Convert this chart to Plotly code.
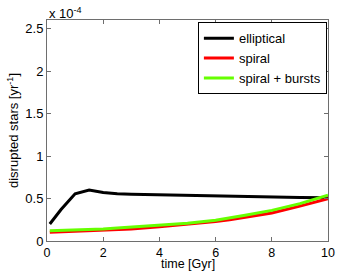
import plotly.graph_objects as go

time_gyr = [0.1, 0.5, 1.0, 1.5, 2.0, 2.5, 3.0, 4.0, 5.0, 6.0, 6.5, 7.0, 8.0, 9.0, 10.0]
elliptical = [0.20, 0.37, 0.555, 0.60, 0.57, 0.555, 0.55, 0.543, 0.535, 0.527, 0.532, 0.525, 0.518, 0.512, 0.51]
spiral = [0.103, 0.108, 0.113, 0.118, 0.125, 0.132, 0.142, 0.168, 0.197, 0.229, 0.25, 0.277, 0.33, 0.41, 0.497]
spiral_bursts = [0.122, 0.125, 0.13, 0.135, 0.142, 0.152, 0.163, 0.187, 0.209, 0.245, 0.27, 0.30, 0.36, 0.44, 0.54]

y_ticks = [0, 0.5, 1, 1.5, 2, 2.5]
y_ticktext = ["0", "0.5", "1", "1.5", "2", "2.5"]
x_ticks = [0, 2, 4, 6, 8, 10]

font = "'Liberation Sans', Arial, sans-serif"

fig = go.Figure()
fig.add_trace(go.Scatter(x=time_gyr, y=elliptical, mode="lines", name="elliptical",
                         line=dict(color="black", width=3)))
fig.add_trace(go.Scatter(x=time_gyr, y=spiral, mode="lines", name="spiral",
                         line=dict(color="#FF0000", width=3)))
fig.add_trace(go.Scatter(x=time_gyr, y=spiral_bursts, mode="lines", name="spiral + bursts",
                         line=dict(color="#66FF00", width=3)))

axis_common = dict(showline=True, linecolor="#6e6e6e", linewidth=1, mirror="ticks",
                   ticks="inside", ticklen=4, tickcolor="#6e6e6e", showgrid=False,
                   zeroline=False)

fig.update_layout(
    width=362, height=272,
    margin=dict(l=47, r=34, t=20, b=31),
    paper_bgcolor="white", plot_bgcolor="white",
    font=dict(family=font, size=13, color="black"),
    xaxis=dict(range=[0, 10], tickvals=x_ticks,
               tickfont=dict(family=font, size=12.5, color="black"), **axis_common),
    yaxis=dict(range=[0, 2.6], tickvals=y_ticks, ticktext=y_ticktext,
               tickfont=dict(family=font, size=13, color="black"),
               title=dict(text="disrupted stars [yr<sup>-1</sup>]", font=dict(family=font, size=13), standoff=3),
               **axis_common),
    legend=dict(x=0.537, y=0.99, xanchor="left", yanchor="top",
                bordercolor="black", borderwidth=1, bgcolor="white",
                font=dict(family=font, size=13), tracegroupgap=0,
                itemwidth=30),
    showlegend=True,
    annotations=[
        dict(text="x 10<sup>-4</sup>", xref="paper", yref="paper", x=0, y=1,
             xanchor="left", yanchor="bottom", showarrow=False,
             font=dict(family=font, size=13), yshift=-3),
        dict(text="time [Gyr]", xref="paper", yref="paper", x=0.5, y=0,
             xanchor="center", yanchor="bottom", showarrow=False,
             font=dict(family=font, size=12.5), yshift=-31, borderpad=0),
    ],
)

fig.write_html("out.html", config={"displayModeBar": False},
               post_script="document.body.style.margin='0';")
